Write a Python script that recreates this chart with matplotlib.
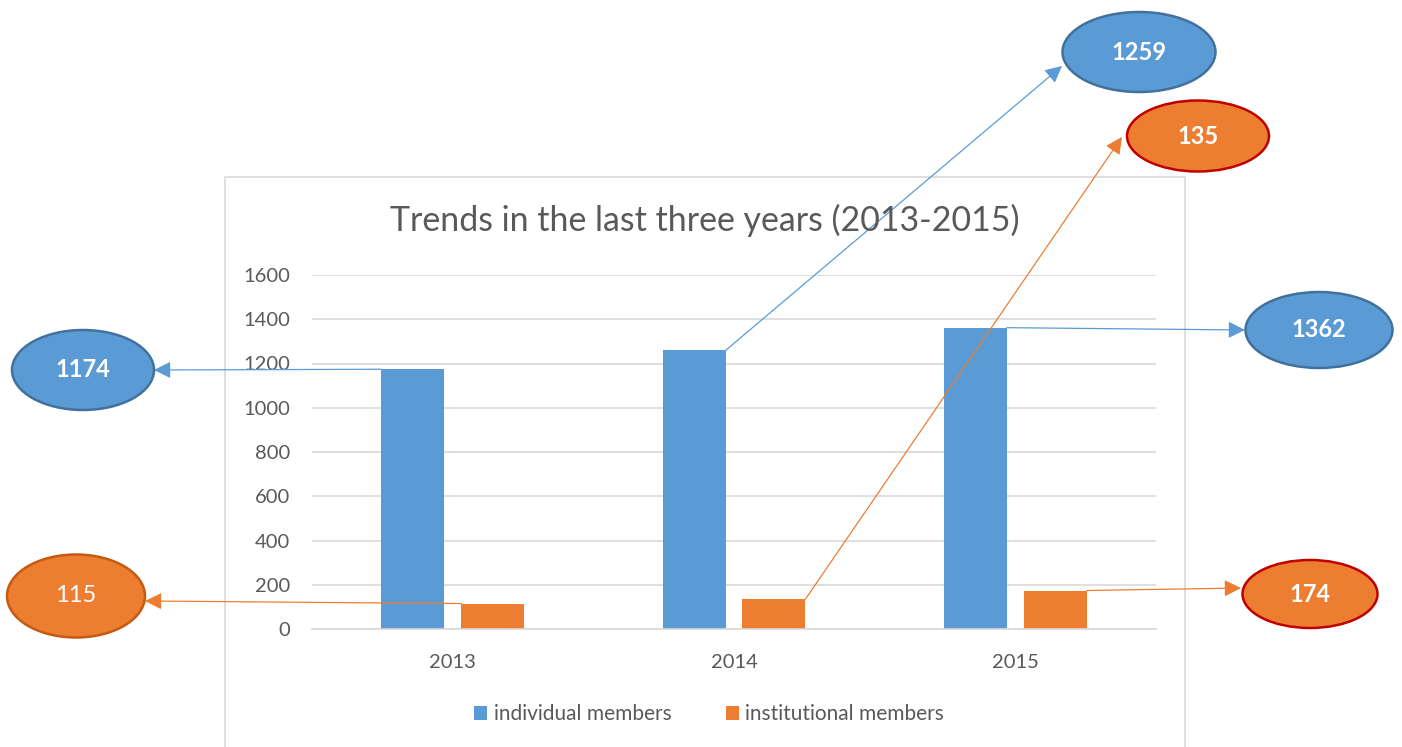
import matplotlib.pyplot as plt
import numpy as np
from matplotlib.patches import Ellipse, Rectangle

plt.rcParams['font.family'] = ['Lato', 'DejaVu Sans']

# Data
years = ['2013', '2014', '2015']
individual = [1174, 1259, 1362]
institutional = [115, 135, 174]
series_names = ['individual members', 'institutional members']

BLUE = '#5B9BD5'
ORANGE = '#ED7D31'
GREY_TEXT = '#595959'
GRID = '#D9D9D9'

W, H = 1402, 747
fig = plt.figure(figsize=(W / 100, H / 100), dpi=100)


def fx(px):
    return px / W


def fy(py):
    return 1 - py / H


# Outer chart frame (bottom runs off the picture)
fig.add_artist(Rectangle((fx(225), fy(777)), fx(1185) - fx(225), fy(177) - fy(777),
                         transform=fig.transFigure, fill=False, edgecolor=GRID, lw=1.2, zorder=0))

ax = fig.add_axes([fx(312), fy(629), fx(1156) - fx(312), fy(275) - fy(629)])

x = np.arange(len(years))
bw = 0.224
off = 0.142
ax.bar(x - off, individual, bw, color=BLUE, label=series_names[0], zorder=2)
ax.bar(x + off, institutional, bw, color=ORANGE, label=series_names[1], zorder=2)

ax.set_xlim(-0.5, 2.5)
ax.set_ylim(0, 1600)
ax.set_yticks(range(0, 1601, 200))
ax.set_xticks(x, years)
ax.grid(axis='y', color=GRID, lw=1.2, zorder=0)
for s in ('left', 'right', 'top'):
    ax.spines[s].set_visible(False)
ax.spines['bottom'].set_color(GRID)
ax.spines['bottom'].set_linewidth(1.2)
ax.tick_params(length=0, labelsize=14.5, labelcolor=GREY_TEXT)
ax.tick_params(axis='y', pad=16)
ax.tick_params(axis='x', pad=18)
ax.patch.set_alpha(0)

fig.text(fx(705), fy(220), 'Trends in the last three years (2013-2015)',
         ha='center', va='center', fontsize=24.4, color=GREY_TEXT)

fig.legend(loc='center', bbox_to_anchor=(fx(709), fy(714)), ncol=2, frameon=False,
           fontsize=15, labelcolor=GREY_TEXT, handlelength=0.65, handleheight=0.65,
           handletextpad=0.3, columnspacing=2.6)

# Callouts: (series, year index, bar side, ellipse centre px, size px, tip px, edge, bold)
callouts = [
    (individual, 0, -off - bw / 2, (83, 370), (142, 80), (154, 370), '#41719C', True, BLUE),
    (individual, 1, -off + bw / 2, (1139, 52), (153, 80), (1062, 66), '#41719C', True, BLUE),
    (individual, 2, -off + bw / 2, (1319, 330), (147, 76), (1245, 330), '#41719C', True, BLUE),
    (institutional, 0, off - bw / 2, (76, 596), (138, 83), (145, 601), '#C55A11', False, ORANGE),
    (institutional, 1, off + bw / 2, (1198, 136), (142, 71), (1122, 137), '#C00000', True, ORANGE),
    (institutional, 2, off + bw / 2, (1310, 594), (135, 68), (1241, 588), '#C00000', True, ORANGE),
]

for vals, i, dx, (cx, cy), (ew, eh), (tx, ty), edge, bold, col in callouts:
    ax.annotate('', xy=(fx(tx), fy(ty)), xycoords='figure fraction',
                xytext=(x[i] + dx, vals[i]), textcoords='data',
                arrowprops=dict(arrowstyle='-|>,head_length=0.6,head_width=0.3',
                                color=col, lw=0.9, shrinkA=0, shrinkB=0,
                                mutation_scale=17),
                annotation_clip=False, zorder=5)
    fig.add_artist(Ellipse((fx(cx), fy(cy)), ew / W, eh / H, transform=fig.transFigure,
                           facecolor=col, edgecolor=edge, lw=1.8, zorder=6))
    fig.text(fx(cx), fy(cy), str(vals[i]), ha='center', va='center', color='white',
             fontsize=17, fontweight='bold' if bold else 'normal', zorder=7)

fig.savefig('out.png', dpi=100)
